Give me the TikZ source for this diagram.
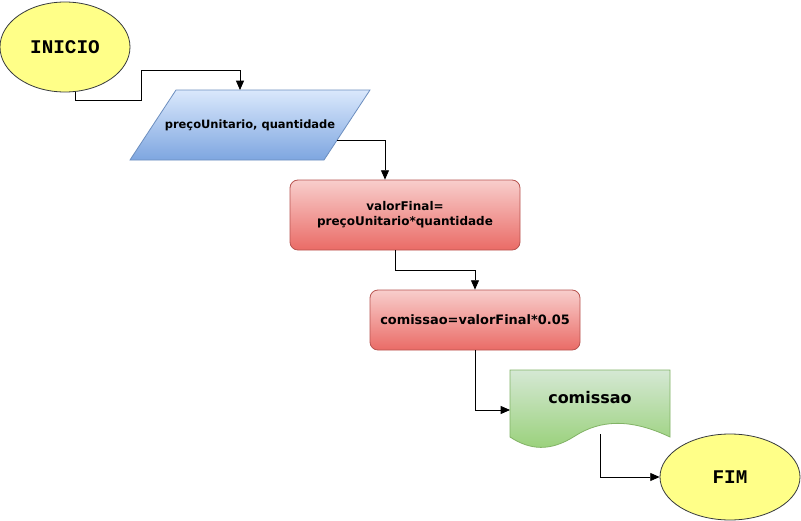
\documentclass[tikz,border=0pt]{standalone}
\usepackage{fontspec}
\setmainfont{DejaVu Sans}
\newfontfamily\monob{Liberation Mono}
\usetikzlibrary{shapes.geometric,arrows.meta}
\definecolor{termfill}{HTML}{FFFF88}
\definecolor{termdraw}{HTML}{36393D}
\definecolor{bluetop}{HTML}{DAE8FC}
\definecolor{bluebot}{HTML}{7EA6E0}
\definecolor{bluedraw}{HTML}{6C8EBF}
\definecolor{redtop}{HTML}{F8CECC}
\definecolor{redbot}{HTML}{EA6B66}
\definecolor{reddraw}{HTML}{B85450}
\definecolor{greentop}{HTML}{D5E8D4}
\definecolor{greenbot}{HTML}{97D077}
\definecolor{greendraw}{HTML}{82B366}
\tikzset{
  terminal/.style={ellipse, draw=termdraw, fill=termfill, line width=0.6pt, inner sep=0pt, font=\monob\bfseries\fontsize{14.5}{16}\selectfont},
  procbox/.style={rectangle, rounded corners=6pt, draw=reddraw, top color=redtop, bottom color=redbot, line width=0.6pt, align=center, font=\bfseries\fontsize{9}{11}\selectfont},
  lbl/.style={inner sep=0pt, align=center, font=\bfseries\fontsize{8.6}{10}\selectfont},
  conn/.style={draw=black, line width=0.6pt, -{Triangle[length=7pt,width=6pt]}}
}
\begin{document}
\begin{tikzpicture}[x=0.75pt,y=-0.75pt]
\useasboundingbox[fill=white] (0,0) rectangle (801,521);
% INICIO
\node[terminal, minimum width=130*0.75pt, minimum height=90*0.75pt] (inicio) at (65,47) {INICIO};
% parallelogram
\draw[draw=bluedraw, top color=bluetop, bottom color=bluebot, line width=0.6pt]
  (176,90) -- (370,90) -- (324,160) -- (130,160) -- cycle;
\node[lbl] (entrada) at (250,125) {preçoUnitario, quantidade};
\coordinate (entradaTop) at (240,90);
\coordinate (entradaRight) at (337,140);
% process 1
\node[procbox, minimum width=230*0.75pt, minimum height=70*0.75pt] (calc1) at (405,215) {valorFinal=\\preçoUnitario*quantidade};
% process 2
\node[procbox, minimum width=210*0.75pt, minimum height=60*0.75pt, font=\bfseries\fontsize{9.7}{11}\selectfont] (calc2) at (475,320) {comissao=valorFinal*0.05};
% document
\draw[draw=greendraw, top color=greentop, bottom color=greenbot, line width=0.6pt]
  (510,370) -- (670,370) -- (670,437)
  .. controls (630,418) and (600,420) .. (575,436)
  .. controls (550,452) and (530,450) .. (510,437) -- cycle;
\node[inner sep=0pt, font=\bfseries\fontsize{12}{14}\selectfont] (saida) at (590,398) {comissao};
\coordinate (saidaLeft) at (510,410);
\coordinate (saidaBottom) at (600,434);
% FIM
\node[terminal, minimum width=140*0.75pt, minimum height=86*0.75pt] (fim) at (730,477) {FIM};
% connectors
\draw[conn] (inicio.south -| 75,0) |- (141,100) |- (240,70) -- (entradaTop);
\draw[conn] (entradaRight) -| (calc1.north -| 385,0);
\draw[conn] (calc1.south -| 395,0) |- (475,270) -- (calc2.north -| 475,0);
\draw[conn] (calc2.south) |- (saidaLeft);
\draw[conn] (saidaBottom) |- (fim.west);
\end{tikzpicture}
\end{document}
